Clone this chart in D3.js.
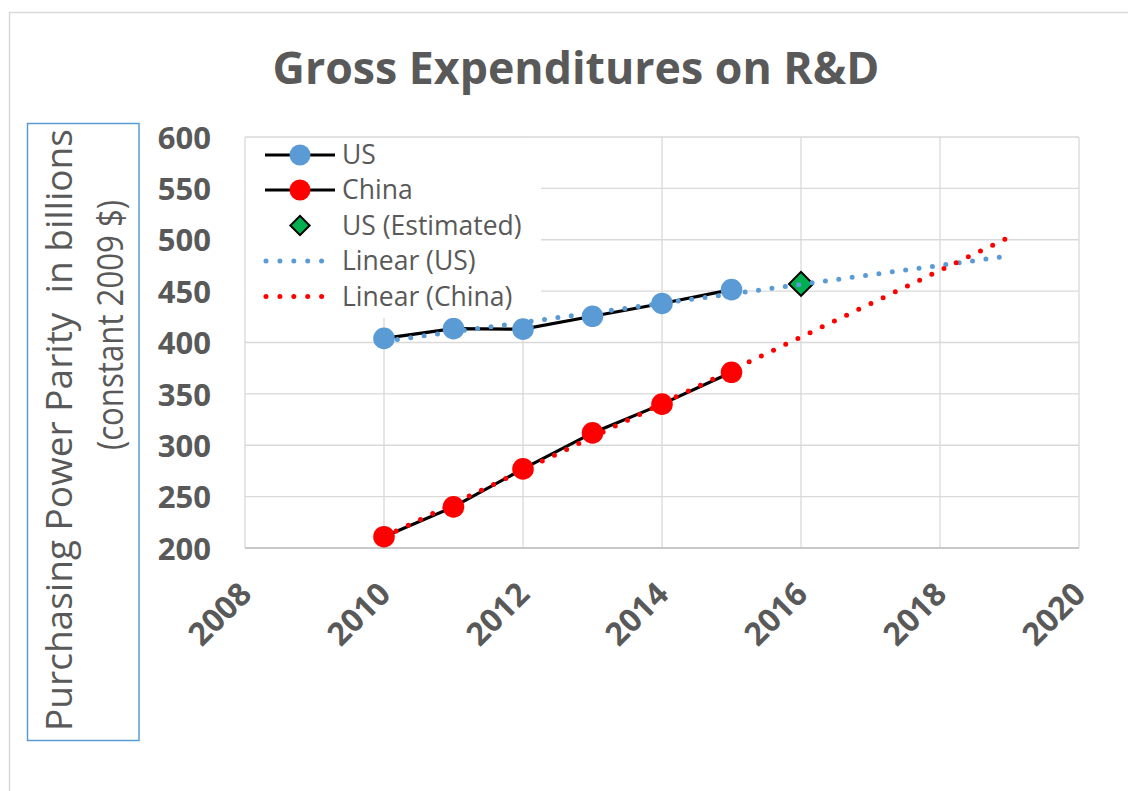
<!DOCTYPE html>
<html>
<head>
<meta charset="utf-8">
<script src="https://cdn.jsdelivr.net/npm/d3@7"></script>
<style>
html,body{margin:0;padding:0;background:#fff;}
svg{display:block;}
text{font-family:"Open Sans","Noto Sans",sans-serif;white-space:pre;}
</style>
</head>
<body>
<svg id="chart" width="1128" height="791"></svg>
<script>
// ---- data ----
const years = [2010, 2011, 2012, 2013, 2014, 2015];
const usValues = [404, 413.5, 413, 425.5, 438, 451.5];
const chinaValues = [211, 240, 277, 312, 340, 371];
const usEstYears = [2016];
const usEstValues = [457];
const trendForecastEnd = 2019;
const xTicks = [2008, 2010, 2012, 2014, 2016, 2018, 2020];
const yTicks = [200, 250, 300, 350, 400, 450, 500, 550, 600];
const legendLabels = ["US", "China", "US (Estimated)", "Linear (US)", "Linear (China)"];
const titleText = "Gross Expenditures on R&D";
const yTitleLines = ["Purchasing Power Parity  in billions", "(constant 2009 $)"];

// ---- styles ----
const colUS = "#5B9BD5", colCN = "#FF0000", colEst = "#00B050";
const textCol = "#595959", gridCol = "#D9D9D9";

const svg = d3.select("#chart");
const L = 245, R = 1079, T = 137, B = 548;
const x = d3.scaleLinear().domain([2008, 2020]).range([L, R]);
const y = d3.scaleLinear().domain([200, 600]).range([B, T]);

function fitText(sel, target, maxSize) {
  let fs = maxSize;
  sel.style("font-size", fs + "px");
  const w = sel.node().getComputedTextLength();
  fs = fs * target / w;
  sel.style("font-size", fs + "px");
  return fs;
}

// chart area border
svg.append("path").attr("d", "M9.5,791 V12.5 H1128").attr("fill", "none")
  .attr("stroke", gridCol).attr("stroke-width", 1.5);

// title
const title = svg.append("text").attr("x", (272 + 880) / 2).attr("y", 84)
  .attr("text-anchor", "middle").attr("font-weight", "bold").attr("fill", textCol).text(titleText);
fitText(title, 607, 44);

// gridlines
const grid = svg.append("g");
grid.selectAll("line.h").data(yTicks).join("line").attr("class", "h")
  .attr("x1", L).attr("x2", R).attr("y1", d => y(d)).attr("y2", d => y(d))
  .attr("stroke", gridCol).attr("stroke-width", 1.3);
grid.selectAll("line.v").data(xTicks).join("line").attr("class", "v")
  .attr("y1", T).attr("y2", B).attr("x1", d => x(d)).attr("x2", d => x(d))
  .attr("stroke", gridCol).attr("stroke-width", 1.3);
// bottom axis line
svg.append("line").attr("x1", L).attr("x2", R).attr("y1", B).attr("y2", B)
  .attr("stroke", "#BFBFBF").attr("stroke-width", 1.5);

// y axis labels via d3 axis
const yAxis = svg.append("g").attr("transform", `translate(${211},0)`)
  .call(d3.axisLeft(y).tickValues(yTicks).tickSize(0).tickPadding(0));
yAxis.select(".domain").remove();
yAxis.selectAll("text").attr("fill", textCol).attr("font-weight", "bold")
  .style("font-size", "31px").attr("dy", "0.36em").attr("text-anchor", "end").attr("x", 0);

// x axis labels
const xAxis = svg.append("g").attr("transform", `translate(0,${B})`)
  .call(d3.axisBottom(x).tickValues(xTicks).tickFormat(d3.format("d")).tickSize(0));
xAxis.select(".domain").remove();
xAxis.selectAll("text").attr("fill", textCol).attr("font-weight", "bold")
  .style("font-size", "32px").attr("text-anchor", "end").attr("y", 0).attr("dy", 0)
  .attr("transform", "translate(8,48) rotate(-45)");

// y-axis title box
svg.append("rect").attr("x", 27.5).attr("y", 123.5).attr("width", 111.5).attr("height", 617)
  .attr("fill", "none").attr("stroke", colUS).attr("stroke-width", 1.5);
const yt1 = svg.append("text").attr("transform", "translate(72,430) rotate(-90)")
  .attr("text-anchor", "middle").attr("fill", textCol).text(yTitleLines[0]);
const fsY = fitText(yt1, 602, 32);
svg.append("text").attr("transform", "translate(123,325) rotate(-90)")
  .attr("text-anchor", "middle").attr("fill", textCol).style("font-size", fsY + "px")
  .attr("textLength", 250).attr("lengthAdjust", "spacingAndGlyphs").text(yTitleLines[1]);

// series lines
const line = d3.line().x(d => x(d[0])).y(d => y(d[1]));
const usPts = years.map((yr, i) => [yr, usValues[i]]);
const cnPts = years.map((yr, i) => [yr, chinaValues[i]]);
svg.append("path").attr("d", line(usPts)).attr("fill", "none").attr("stroke", "#000").attr("stroke-width", 3.2);
svg.append("path").attr("d", line(cnPts)).attr("fill", "none").attr("stroke", "#000").attr("stroke-width", 3.2);

// markers
svg.append("g").selectAll("circle").data(usPts).join("circle")
  .attr("cx", d => x(d[0])).attr("cy", d => y(d[1])).attr("r", 10.8).attr("fill", colUS);
svg.append("g").selectAll("circle").data(cnPts).join("circle")
  .attr("cx", d => x(d[0])).attr("cy", d => y(d[1])).attr("r", 10.8).attr("fill", colCN);
svg.append("g").selectAll("rect").data(usEstYears.map((yr, i) => [yr, usEstValues[i]])).join("rect")
  .attr("x", -8.5).attr("y", -8.5).attr("width", 17).attr("height", 17)
  .attr("transform", d => `translate(${x(d[0])},${y(d[1])}) rotate(45)`)
  .attr("fill", colEst).attr("stroke", "#000").attr("stroke-width", 2);

// linear trendlines (least squares of each series, forecast forward)
function trend(xs, ys) {
  const mx = d3.mean(xs), my = d3.mean(ys);
  const b = d3.sum(xs, (v, i) => (v - mx) * (ys[i] - my)) / d3.sum(xs, v => (v - mx) ** 2);
  const a = my - b * mx;
  return [[xs[0], a + b * xs[0]], [trendForecastEnd, a + b * trendForecastEnd]];
}
svg.append("path").attr("d", line(trend(years, usValues))).attr("fill", "none")
  .attr("stroke", colUS).attr("stroke-width", 5).attr("stroke-linecap", "round").attr("stroke-dasharray", "0 13.5");
svg.append("path").attr("d", line(trend(years, chinaValues))).attr("fill", "none")
  .attr("stroke", colCN).attr("stroke-width", 5).attr("stroke-linecap", "round").attr("stroke-dasharray", "0 13.5");

// legend
const lg = svg.append("g");
lg.append("rect").attr("x", L + 1).attr("y", T + 1).attr("width", 541 - L - 1).attr("height", 318 - T - 1).attr("fill", "#fff");
const rowY = [155, 190, 225.5, 261, 296.5];
legendLabels.forEach((lab, i) => {
  const g = lg.append("g").attr("transform", `translate(0,${rowY[i]})`);
  if (i < 2) {
    g.append("line").attr("x1", 265).attr("x2", 335).attr("stroke", "#000").attr("stroke-width", 3.2);
    g.append("circle").attr("cx", 300).attr("r", 10.5).attr("fill", i === 0 ? colUS : colCN);
  } else if (i === 2) {
    g.append("rect").attr("x", -6.8).attr("y", -6.8).attr("width", 13.6).attr("height", 13.6)
      .attr("transform", "translate(300,0) rotate(45)").attr("fill", colEst).attr("stroke", "#000").attr("stroke-width", 2);
  } else {
    g.append("line").attr("x1", 266).attr("x2", 322).attr("stroke", i === 3 ? colUS : colCN)
      .attr("stroke-width", 5).attr("stroke-linecap", "round").attr("stroke-dasharray", "0 13.9");
  }
  g.append("text").attr("x", 342).attr("dy", "0.35em").attr("fill", textCol).style("font-size", "26.5px").text(lab);
});
</script>
</body>
</html>
